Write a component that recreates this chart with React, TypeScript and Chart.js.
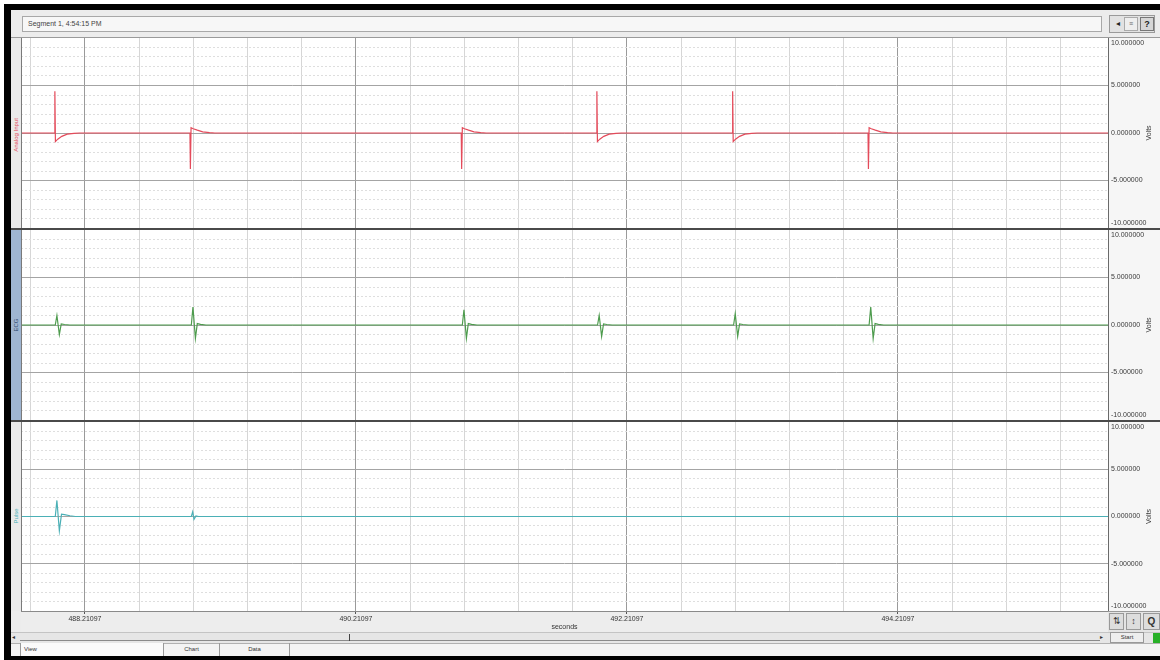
import React, { useEffect, useRef } from "react";
import { Chart, registerables } from "chart.js";

Chart.register(...registerables);

// ---- axis data ----
const xMin = 487.739;
const xMax = 495.761;
const xMajorTicks = [488.21097, 490.21097, 492.21097, 494.21097];
const xMinorStep = 0.4;
const yTickLabels = [10, 5, 0, -5, -10];
const yMin = -10;
const yMax = 10;

// ---- channel 1 (red) ----
const ch1Time = [
  487.739, 487.986, 487.989, 487.993, 488.01, 488.04, 488.08, 488.13, 488.17,
  488.986, 488.989, 488.994, 489.01, 489.04, 489.08, 489.13, 489.17,
  490.988, 490.991, 490.996, 491.012, 491.042, 491.082, 491.132, 491.172,
  491.986, 491.989, 491.993, 492.01, 492.04, 492.08, 492.13, 492.17,
  492.988, 492.991, 492.995, 493.012, 493.042, 493.082, 493.132, 493.172,
  493.99, 493.993, 493.998, 494.014, 494.044, 494.084, 494.134, 494.174,
  495.761,
];
const ch1Volts = [
  0, 0, 4.4, -0.9, -0.65, -0.35, -0.12, -0.03, 0,
  0, -3.8, 0.55, 0.45, 0.3, 0.12, 0.04, 0,
  0, -3.8, 0.55, 0.45, 0.3, 0.12, 0.04, 0,
  0, 4.4, -0.9, -0.65, -0.35, -0.12, -0.03, 0,
  0, 4.4, -0.9, -0.65, -0.35, -0.12, -0.03, 0,
  0, -3.8, 0.55, 0.45, 0.3, 0.12, 0.04, 0,
  0,
];

// ---- channel 2 (green) ----
const ch2Time = [
  487.739, 487.992, 488.004, 488.022, 488.036, 488.06, 488.1,
  488.996, 489.008, 489.026, 489.04, 489.064, 489.104,
  490.996, 491.008, 491.026, 491.04, 491.064, 491.104,
  491.994, 492.006, 492.024, 492.038, 492.062, 492.102,
  492.998, 493.01, 493.028, 493.042, 493.066, 493.106,
  493.998, 494.01, 494.028, 494.042, 494.066, 494.106,
  495.761,
];
const ch2Volts = [
  0, 0, 1.0, -1.0, 0.12, 0.05, 0,
  0, 1.9, -1.4, 0.15, 0.06, 0,
  0, 1.6, -1.4, 0.15, 0.06, 0,
  0, 1.0, -1.2, 0.12, 0.05, 0,
  0, 1.2, -1.2, 0.12, 0.05, 0,
  0, 1.9, -1.4, 0.15, 0.06, 0,
  0,
];

// ---- channel 3 (teal) ----
const ch3Time = [
  487.739, 487.992, 488.004, 488.022, 488.038, 488.06, 488.1, 488.14,
  488.996, 489.006, 489.016, 489.03, 489.05,
  495.761,
];
const ch3Volts = [
  0, 0, 1.7, -1.5, 0.25, 0.2, 0.08, 0,
  0, 0.5, -0.3, 0.05, 0,
  0,
];

const channelNames = ["Analog Input", "ECG", "Pulse"];
const channelColors = ["#e44a5a", "#4e9c4e", "#4bb0b6"];
const xTitle = "seconds";
const yUnit = "Volts";
const segmentTitle = "Segment 1, 4:54:15 PM";
const tabNames = ["View", "Chart", "Data"];

const FONT = '"Liberation Sans", Arial, sans-serif';

const isMajor = (v: number) => xMajorTicks.some((m) => Math.abs(v - m) < 1e-6);

type PanelProps = {
  time: number[];
  volts: number[];
  color: string;
  top: number;
  height: number;
  showX: boolean;
};

function Panel({ time, volts, color, top, height, showX }: PanelProps) {
  const ref = useRef<HTMLCanvasElement>(null);
  useEffect(() => {
    if (!ref.current) return;
    const bgPlugin = {
      id: "bgAndLabels",
      beforeDraw(chart: any) {
        const { ctx, chartArea: a, width, height: h } = chart;
        ctx.save();
        ctx.fillStyle = "#ededed";
        ctx.fillRect(0, 0, width, h);
        ctx.fillStyle = "#f6f6f6";
        ctx.fillRect(a.right, 0, width - a.right, a.bottom);
        ctx.fillStyle = "#ffffff";
        ctx.fillRect(a.left, a.top, a.right - a.left, a.bottom - a.top);
        ctx.restore();
      },
      afterDraw(chart: any) {
        const { ctx, chartArea: a } = chart;
        const ys = chart.scales.y;
        ctx.save();
        ctx.fillStyle = "#3a3a3a";
        ctx.font = `7px ${FONT}`;
        ctx.textBaseline = "middle";
        ctx.textAlign = "left";
        yTickLabels.forEach((v) => {
          let y = ys.getPixelForValue(v);
          if (v === yMax) y += 5;
          if (v === yMin) y -= 5;
          ctx.fillText(v.toFixed(6), a.right + 3, y);
        });
        ctx.translate(a.right + 41, ys.getPixelForValue(0));
        ctx.rotate(-Math.PI / 2);
        ctx.textAlign = "center";
        ctx.fillText(yUnit, 0, 0);
        ctx.restore();
      },
    };
    const chart = new Chart(ref.current, {
      type: "line",
      data: {
        datasets: [
          {
            data: time.map((t, i) => ({ x: t, y: volts[i] })),
            borderColor: color,
            borderWidth: 1.2,
            pointRadius: 0,
            tension: 0,
            fill: false,
          },
        ],
      },
      options: {
        animation: false,
        responsive: false,
        maintainAspectRatio: false,
        events: [],
        layout: { padding: 0 },
        plugins: { legend: { display: false }, tooltip: { enabled: false } },
        scales: {
          x: {
            type: "linear",
            min: xMin,
            max: xMax,
            afterBuildTicks: (scale: any) => {
              const k0 = Math.ceil((xMin - xMajorTicks[0]) / xMinorStep);
              const k1 = Math.floor((xMax - xMajorTicks[0]) / xMinorStep);
              const ticks = [];
              for (let k = k0; k <= k1; k++) {
                ticks.push({ value: xMajorTicks[0] + k * xMinorStep });
              }
              scale.ticks = ticks;
            },
            afterFit: (scale: any) => {
              scale.height = showX ? 21 : 0;
            },
            grid: {
              color: (c: any) => (isMajor(c.tick.value) ? "#9a9a9a" : "#d6d6d6"),
              drawTicks: showX,
              tickLength: 3,
              tickColor: (c: any) => (isMajor(c.tick.value) ? "#555" : "rgba(0,0,0,0)"),
            },
            border: { display: showX, color: "#8a8a8a" },
            ticks: {
              display: showX,
              autoSkip: false,
              maxRotation: 0,
              padding: 1,
              color: "#333",
              font: { size: 7, family: FONT },
              callback: (v: any) => (isMajor(Number(v)) ? Number(v).toFixed(5) : ""),
            },
            title: {
              display: showX,
              text: xTitle,
              color: "#333",
              font: { size: 7, family: FONT },
              padding: { top: 0, bottom: 1 },
            },
          },
          y: {
            position: "right",
            min: yMin,
            max: yMax,
            afterFit: (scale: any) => {
              scale.width = 52;
            },
            ticks: { stepSize: 1, display: false },
            grid: {
              drawTicks: false,
              color: (c: any) => {
                const v = c.tick.value;
                if (Math.abs(v) === 10) return "rgba(0,0,0,0)";
                return v % 5 === 0 ? "#a4a4a4" : "#dedede";
              },
            },
            border: {
              color: "#6a6a6a",
              dash: (c: any) => (c.tick && c.tick.value % 5 !== 0 ? [2, 2] : []),
            },
          },
        },
      },
      plugins: [bgPlugin],
    } as any);
    return () => chart.destroy();
  }, []);
  return (
    <canvas
      ref={ref}
      width={1139}
      height={height}
      style={{ position: "absolute", left: 21, top, width: 1139, height, display: "block" }}
    />
  );
}

const abs = (l: number, t: number, w: number, h: number, extra: any = {}) => ({
  position: "absolute" as const,
  left: l,
  top: t,
  width: w,
  height: h,
  boxSizing: "border-box" as const,
  ...extra,
});

function ChannelLabel({ text, color, cy }: { text: string; color: string; cy: number }) {
  return (
    <div
      style={{
        position: "absolute",
        left: 16,
        top: cy,
        transform: "translate(-50%, -50%) rotate(-90deg)",
        fontSize: 6,
        color,
        whiteSpace: "nowrap",
        lineHeight: "7px",
      }}
    >
      {text}
    </div>
  );
}

export default function App() {
  return (
    <div
      style={{
        position: "fixed",
        left: 0,
        top: 0,
        width: 1160,
        height: 660,
        background: "#ffffff",
        overflow: "hidden",
        fontFamily: FONT,
      }}
    >
      {/* black frame */}
      <div style={abs(4, 4, 1156, 656, { background: "#000" })} />
      <div style={abs(11, 10, 1149, 646, { background: "#ececec" })} />

      {/* toolbar */}
      <div
        style={abs(22, 16, 1080, 16, {
          background: "#f7f7f7",
          border: "1px solid #a8a8a8",
          fontSize: 7,
          color: "#444",
          paddingLeft: 5,
          lineHeight: "14px",
        })}
      >
        {segmentTitle}
      </div>
      <div style={abs(1109, 15, 46, 18, { border: "1px solid #9a9a9a", background: "#e2e2e2" })} />
      <div style={abs(1111, 17, 13, 14, { fontSize: 8, textAlign: "center", lineHeight: "14px", color: "#222" })}>◂</div>
      <div style={abs(1124, 17, 14, 14, { border: "1px solid #aaa", background: "#eee", fontSize: 7, textAlign: "center", lineHeight: "12px", color: "#666" })}>≡</div>
      <div style={abs(1140, 17, 14, 14, { border: "1px solid #777", background: "#d6d6d6", fontSize: 9, textAlign: "center", lineHeight: "12px", color: "#222", fontWeight: "bold" })}>?</div>

      {/* panels */}
      <Panel time={ch1Time} volts={ch1Volts} color={channelColors[0]} top={38} height={190} showX={false} />
      <Panel time={ch2Time} volts={ch2Volts} color={channelColors[1]} top={230} height={190} showX={false} />
      <Panel time={ch3Time} volts={ch3Volts} color={channelColors[2]} top={422} height={210} showX={true} />

      {/* left channel strips */}
      <div style={abs(11, 38, 10, 190, { background: "#eaeaea" })} />
      <div style={abs(11, 230, 10, 190, { background: "#9fb5d1" })} />
      <div style={abs(11, 422, 10, 189, { background: "#eaeaea" })} />
      <ChannelLabel text={channelNames[0]} color={channelColors[0]} cy={135} />
      <ChannelLabel text={channelNames[1]} color="#2f4a6e" cy={325} />
      <ChannelLabel text={channelNames[2]} color={channelColors[2]} cy={516} />
      <div style={abs(21, 38, 1, 573, { background: "#7a7a7a" })} />

      {/* separators */}
      <div style={abs(11, 228, 1149, 2, { background: "#4a4a4a" })} />
      <div style={abs(11, 420, 1149, 2, { background: "#4a4a4a" })} />
      <div style={abs(11, 37, 1149, 1, { background: "#9a9a9a" })} />

      {/* right-bottom icons */}
      <div style={abs(1108, 611, 52, 21, { background: "#e4e4e4", borderTop: "1px solid #999" })} />
      <div style={abs(1109, 613, 15, 17, { border: "1px solid #999", background: "#ddd", fontSize: 9, textAlign: "center", lineHeight: "15px", color: "#333" })}>⇅</div>
      <div style={abs(1126, 613, 15, 17, { border: "1px solid #999", background: "#ddd", fontSize: 9, textAlign: "center", lineHeight: "15px", color: "#333" })}>↕</div>
      <div style={abs(1143, 613, 17, 17, { border: "1px solid #999", background: "#ddd", fontSize: 10, textAlign: "center", lineHeight: "15px", color: "#333", fontWeight: "bold" })}>Q</div>

      {/* scroll row */}
      <div style={abs(11, 632, 1149, 11, { background: "#e6e6e6", borderTop: "1px solid #c4c4c4" })} />
      <div style={abs(20, 640, 1080, 1, { background: "#8a8a8a" })} />
      <div style={abs(349, 634, 1, 7, { background: "#444" })} />
      <div style={abs(12, 632, 8, 11, { fontSize: 6, color: "#333", lineHeight: "11px" })}>◂</div>
      <div style={abs(1100, 632, 8, 11, { fontSize: 6, color: "#333", lineHeight: "11px" })}>▸</div>
      <div style={abs(1110, 632, 34, 11, { border: "1px solid #999", background: "#eee", fontSize: 6, textAlign: "center", lineHeight: "9px", color: "#333" })}>Start</div>
      <div style={abs(1153, 633, 7, 10, { background: "#27b027" })} />

      {/* tabs row */}
      <div style={abs(11, 643, 1149, 13, { background: "#f3f3f3", borderTop: "1px solid #b0b0b0" })} />
      <div style={abs(20, 643, 144, 13, { borderLeft: "1px solid #999", borderRight: "1px solid #999", fontSize: 6, color: "#333", paddingLeft: 3, lineHeight: "12px", background: "#fafafa" })}>{tabNames[0]}</div>
      <div style={abs(164, 643, 56, 13, { borderRight: "1px solid #999", fontSize: 6, color: "#333", textAlign: "center", lineHeight: "12px" })}>{tabNames[1]}</div>
      <div style={abs(220, 643, 70, 13, { borderRight: "1px solid #999", fontSize: 6, color: "#333", textAlign: "center", lineHeight: "12px" })}>{tabNames[2]}</div>
    </div>
  );
}
